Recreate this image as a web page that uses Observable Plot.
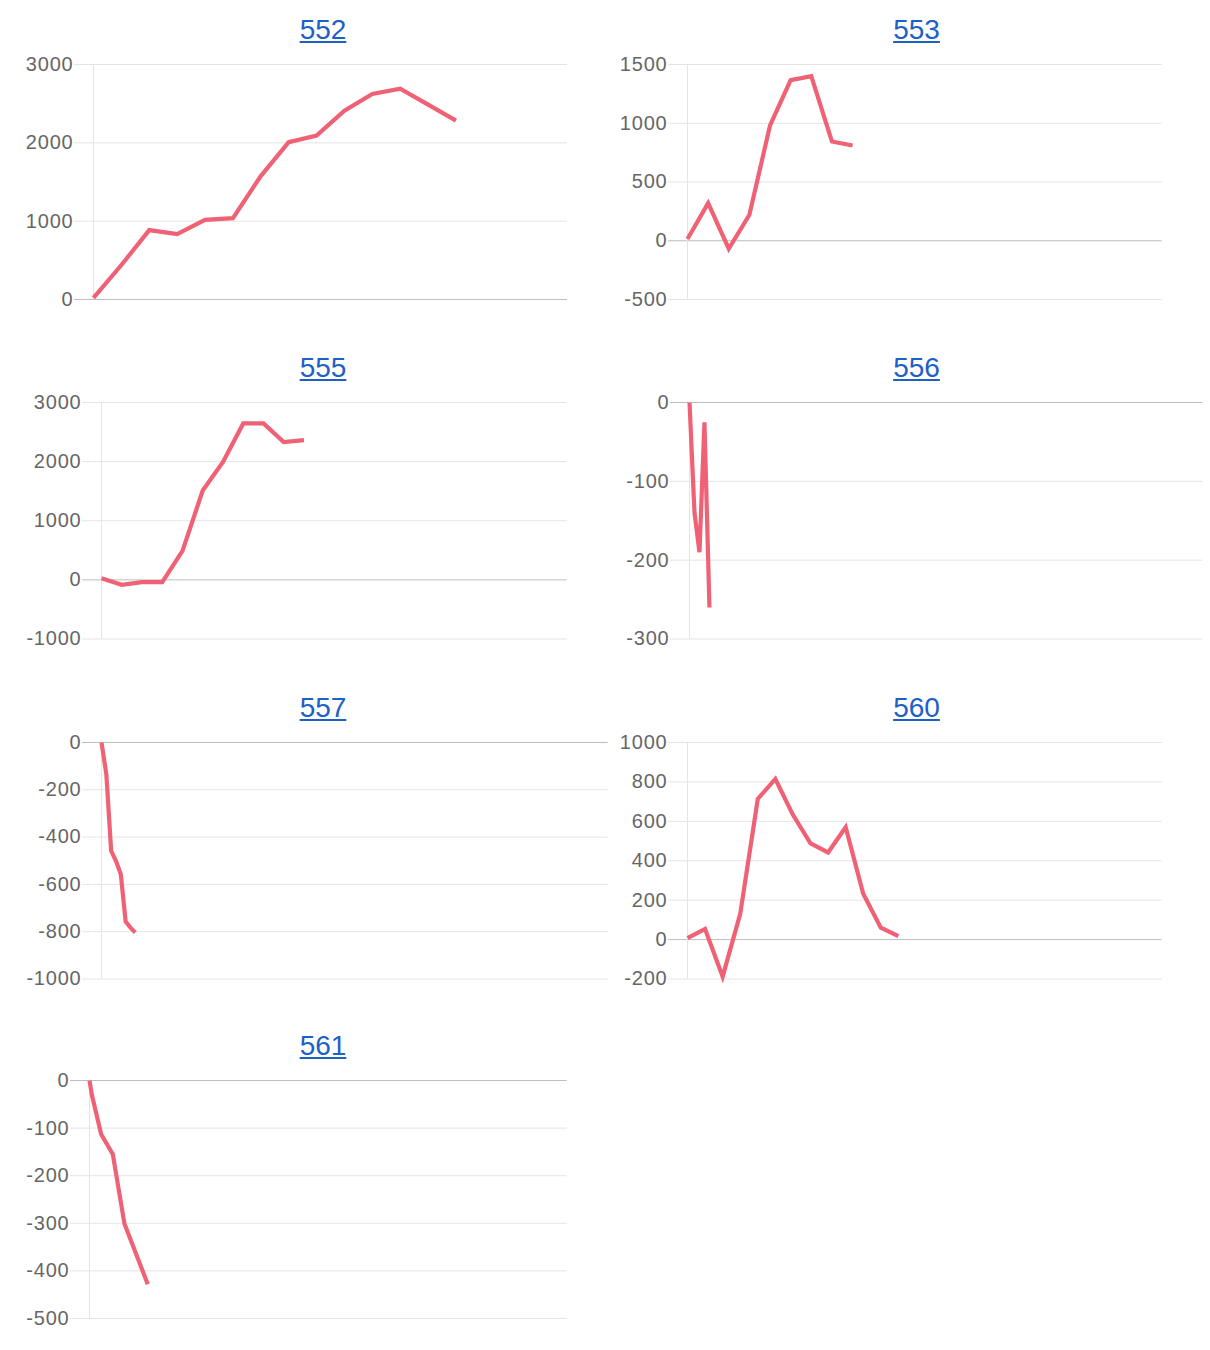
<!DOCTYPE html>
<html>
<head>
<meta charset="utf-8">
<script src="https://cdn.jsdelivr.net/npm/d3@7"></script>
<script src="https://cdn.jsdelivr.net/npm/@observablehq/plot@0.6"></script>
<style>
  body { margin: 0; background: #fff; }
  #root { position: relative; width: 1210px; height: 1350px; overflow: hidden; background: #fff; }
  .ttl { position: absolute; width: 300px; text-align: center; font-family: "Liberation Sans", Arial, sans-serif; font-size: 28px; line-height: 28px; }
  .ttl a { color: #1e60c8; text-decoration: underline; }
  svg text { letter-spacing: 0.8px; }
</style>
</head>
<body>
<div id="root"></div>
<script>
// ---- Data ----
const chartIds = ["552", "553", "555", "556", "557", "560", "561"];

// number of x slots on each chart's horizontal axis (x positions run 0 .. count-1)
const slotCounts = [18, 24, 24, 104, 106, 28, 42];

const x552 = [0, 1, 2, 3, 4, 5, 6, 7, 8, 9, 10, 11, 12, 13];
const y552 = [20, 440, 886, 835, 1017, 1038, 1576, 2008, 2093, 2411, 2623, 2690, 2487, 2284];

const x553 = [0, 1, 2, 3, 4, 5, 6, 7, 8];
const y553 = [15, 320, -68, 221, 981, 1367, 1401, 845, 811];

const x555 = [0, 1, 2, 3, 4, 5, 6, 7, 8, 9, 10];
const y555 = [28, -84, -39, -39, 489, 1511, 1994, 2646, 2646, 2331, 2365];

const x556 = [0, 1, 2, 3, 4];
const y556 = [0, -140, -190, -25, -260];

const x557 = [0, 1, 2, 3, 4, 5, 6, 7];
const y557 = [0, -134, -458, -501, -557, -757, -783, -803];

const x560 = [0, 1, 2, 3, 4, 5, 6, 7, 8, 9, 10, 11, 12];
const y560 = [7, 54, -188, 131, 714, 815, 633, 488, 442, 570, 233, 60, 17];

const x561 = [0, 0.2, 1, 2, 3, 5];
const y561 = [0, -30, -113, -155, -301, -428];

// y-axis tick labels
const ticks552 = [0, 1000, 2000, 3000];
const ticks553 = [-500, 0, 500, 1000, 1500];
const ticks555 = [-1000, 0, 1000, 2000, 3000];
const ticks556 = [-300, -200, -100, 0];
const ticks557 = [-1000, -800, -600, -400, -200, 0];
const ticks560 = [-200, 0, 200, 400, 600, 800, 1000];
const ticks561 = [-500, -400, -300, -200, -100, 0];

const xsAll = [x552, x553, x555, x556, x557, x560, x561];
const ysAll = [y552, y553, y555, y556, y557, y560, y561];
const ticksAll = [ticks552, ticks553, ticks555, ticks556, ticks557, ticks560, ticks561];

// ---- Layout (pixel positions, kept apart from data) ----
const rowBands = [[63.5, 298.5], [401.5, 638], [741.5, 978], [1079.5, 1317.5]];
const colTitleCenters = [323, 916.5];
const placement = [
  { col: 0, row: 0, axisX: 93, right: 567 },
  { col: 1, row: 0, axisX: 686.5, right: 1161 },
  { col: 0, row: 1, axisX: 101.3, right: 567 },
  { col: 1, row: 1, axisX: 688.7, right: 1202 },
  { col: 0, row: 2, axisX: 101.3, right: 608 },
  { col: 1, row: 2, axisX: 686.5, right: 1161 },
  { col: 0, row: 3, axisX: 89.3, right: 567 }
];

const LINE = "#ef6175";
const GRID = "#e4e4e4";
const ZERO = "#bdbdbd";
const ML = 80, MT = 12, MB = 12;
const fmt = d => String(d);

const root = document.getElementById("root");

chartIds.forEach((id, i) => {
  const p = placement[i];
  const [top, bottom] = rowBands[p.row];
  const ticks = ticksAll[i];
  const data = xsAll[i].map((x, k) => ({ x, y: ysAll[i][k] }));
  const yDomain = [d3.min(ticks), d3.max(ticks)];
  const plotW = p.right - p.axisX;
  const plotH = bottom - top;
  const nonZero = ticks.filter(t => t !== 0);

  // title link
  const t = document.createElement("div");
  t.className = "ttl";
  t.style.left = (colTitleCenters[p.col] - 150) + "px";
  t.style.top = (top - 23.5 - 23.7) + "px";
  const a = document.createElement("a");
  a.href = "#";
  a.textContent = id;
  t.appendChild(a);
  root.appendChild(t);

  const svg = Plot.plot({
    width: ML + plotW,
    height: MT + plotH + MB,
    marginLeft: ML,
    marginRight: 0,
    marginTop: MT,
    marginBottom: MB,
    x: { domain: [0, slotCounts[i] - 1], axis: null },
    y: { domain: yDomain, axis: null },
    style: {
      fontFamily: "'Liberation Sans', Arial, sans-serif",
      fontSize: "20px",
      color: "#666",
      background: "transparent",
      overflow: "visible"
    },
    marks: [
      Plot.gridY(nonZero, { stroke: GRID, strokeOpacity: 1, strokeWidth: 1 }),
      Plot.ruleY([0], { stroke: ZERO, strokeWidth: 1 }),
      Plot.ruleX([0], { stroke: GRID, strokeWidth: 1 }),
      Plot.axisY(nonZero, { tickSize: 19, tickPadding: 1, tickFormat: fmt, stroke: GRID, strokeOpacity: 1, fill: "#666", label: null }),
      Plot.axisY([0], { tickSize: 19, tickPadding: 1, tickFormat: fmt, stroke: ZERO, strokeOpacity: 1, fill: "#666", label: null }),
      Plot.line(data, {
        x: "x", y: "y",
        stroke: LINE, strokeWidth: 4.2,
        strokeLinejoin: "miter", strokeMiterlimit: 10, strokeLinecap: "butt"
      })
    ]
  });
  svg.style.position = "absolute";
  svg.style.left = (p.axisX - ML) + "px";
  svg.style.top = (top - MT) + "px";
  root.appendChild(svg);
});
</script>
</body>
</html>
